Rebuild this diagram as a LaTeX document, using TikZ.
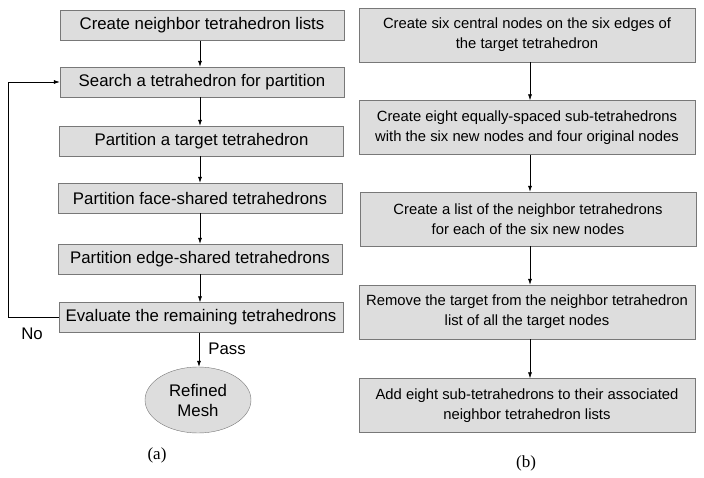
\documentclass[tikz,border=0pt]{standalone}
\usepackage{fontspec}
\setmainfont{Liberation Sans}
\newfontfamily\capfont{Liberation Serif}
\usetikzlibrary{arrows.meta,shapes.geometric}
\definecolor{boxfill}{RGB}{221,221,221}
\definecolor{boxline}{RGB}{120,120,120}
\begin{document}
\begin{tikzpicture}[x=1pt, y=-1pt, font=\fontsize{16.8}{20}\selectfont,
		stepbox/.style={draw=boxline, fill=boxfill, inner sep=0pt, align=center},
		lbox/.style={stepbox, minimum width=284, minimum height=30},
		rbox/.style={stepbox, minimum width=336, minimum height=54,
			font=\fontsize{14.8}{20}\selectfont},
		flow/.style={-{Latex[length=6pt,width=4pt]}, line width=0.6pt},
		caption/.style={font=\capfont\fontsize{17}{20}\selectfont}]
		\useasboundingbox (0,0) rectangle (704,478);
		% (a) refinement loop
		\node[lbox] (a1) at (202,25.5) {Create neighbor tetrahedron lists};
		\node[lbox] (a2) at (202,82) {Search a tetrahedron for partition};
		\node[lbox] (a3) at (201.5,141) {Partition a target tetrahedron};
		\node[lbox] (a4) at (200,198) {Partition face-shared tetrahedrons};
		\node[lbox] (a5) at (200,259) {Partition edge-shared tetrahedrons};
		\node[lbox] (a6) at (201,317.5) {Evaluate the remaining tetrahedrons};
		\node[ellipse, draw=boxline, fill=boxfill, minimum width=106, minimum height=66,
			inner sep=0pt, align=center] (mesh) at (198,400) {Refined\\Mesh};
		
		\draw[flow] (a1.south -| 200,0) -- (a2.north -| 200,0);
		\draw[flow] (a2.south -| 200,0) -- (a3.north -| 200,0);
		\draw[flow] (a3.south -| 200,0) -- (a4.north -| 200,0);
		\draw[flow] (a4.south -| 200,0) -- (a5.north -| 200,0);
		\draw[flow] (a5.south -| 200,0) -- (a6.north -| 200,0);
		\draw[flow] (a6.south -| 199,0) -- (mesh.north -| 199,0);
		\draw[flow] (a6.west) -- ++(-51,0) |- (a2.west);
		
		\node (no) at (32,334) {No};
		\node (pass) at (227,349) {Pass};
		\node[caption] (capa) at (157,455) {(a)};
		
		% (b) partition of one tetrahedron
		\node[rbox] (b1) at (527,35) {Create six central nodes on the six edges of\\the target tetrahedron};
		\node[rbox] (b2) at (527,127.5) {Create eight equally-spaced sub-tetrahedrons\\with the six new nodes and four original nodes};
		\node[rbox] (b3) at (528,219) {Create a list of the neighbor tetrahedrons\\for each of the six new nodes};
		\node[rbox] (b4) at (527,312) {Remove the target from the neighbor tetrahedron\\list of all the target nodes};
		\node[rbox] (b5) at (527,405.5) {Add eight sub-tetrahedrons to their associated\\neighbor tetrahedron lists};
		
		\foreach \u/\v in {b1/b2,b2/b3,b3/b4,b4/b5} {
			\draw[flow] (\u.south -| 530,0) -- (\v.north -| 530,0);
		};
		\node[caption] (capb) at (526,463) {(b)};
\end{tikzpicture}
\end{document}
